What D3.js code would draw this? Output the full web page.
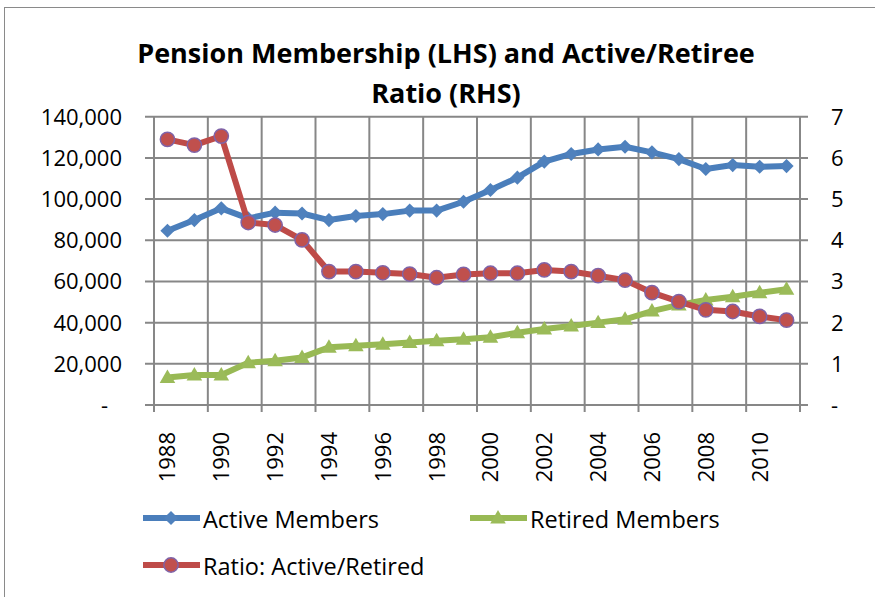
<!DOCTYPE html>
<html>
<head>
<meta charset="utf-8">
<script src="https://cdn.jsdelivr.net/npm/d3@7"></script>
<style>
  body { margin: 0; background: #fff; }
  text { font-family: "Open Sans", sans-serif; fill: #000; }
</style>
</head>
<body>
<div id="chart"></div>
<script>
// data
var years = ["1988","1989","1990","1991","1992","1993","1994","1995","1996","1997","1998","1999",
             "2000","2001","2002","2003","2004","2005","2006","2007","2008","2009","2010","2011"];
var active = [84600, 89800, 95500, 90600, 93400, 93000, 89800, 91800, 92700, 94400, 94400, 98700,
              104400, 110400, 118200, 121900, 124100, 125400, 122700, 119400, 114600, 116500, 115700, 116000];
var retired = [13400, 14600, 14600, 20500, 21500, 23100, 28000, 28800, 29500, 30300, 31200, 31900,
               32900, 35100, 36900, 38400, 40000, 41600, 45600, 48600, 51000, 52600, 54500, 56200];
var ratio = [6.45, 6.31, 6.53, 4.43, 4.37, 4.01, 3.24, 3.24, 3.21, 3.18, 3.09, 3.17,
             3.20, 3.20, 3.28, 3.24, 3.14, 3.03, 2.73, 2.51, 2.31, 2.27, 2.15, 2.06];
var leftTicks = [0, 20000, 40000, 60000, 80000, 100000, 120000, 140000];
var rightTicks = [0, 1, 2, 3, 4, 5, 6, 7];
var titleLines = ["Pension Membership (LHS) and Active/Retiree", "Ratio (RHS)"];

const width = 875, height = 597;
const plot = { left: 154, right: 800, top: 116.7, bottom: 405 };
const gridColor = "#878787";

var svg = d3.select("#chart").append("svg")
    .attr("width", width)
    .attr("height", height);

// chart border
svg.append("rect")
    .attr("x", 4.5).attr("y", 7.5)
    .attr("width", 1000).attr("height", 1000)
    .attr("fill", "none")
    .attr("stroke", "#8a8a8a")
    .attr("stroke-width", 1);

// title
svg.append("g").selectAll("text")
    .data(titleLines)
    .enter().append("text")
    .attr("x", 446)
    .attr("y", (d, i) => 63 + i * 40)
    .attr("text-anchor", "middle")
    .attr("font-size", 27)
    .attr("font-weight", "bold")
    .text(d => d);

var x = d3.scaleBand().domain(years).range([plot.left, plot.right]);
var yL = d3.scaleLinear().domain([0, 140000]).range([plot.bottom, plot.top]);
var yR = d3.scaleLinear().domain([0, 7]).range([plot.bottom, plot.top]);

var fmt = d3.format(",");

// horizontal gridlines (with crossing tick marks on both axes)
svg.append("g").selectAll("line")
    .data(leftTicks)
    .enter().append("line")
    .attr("x1", plot.left - 9)
    .attr("x2", plot.right + 8)
    .attr("y1", d => yL(d))
    .attr("y2", d => yL(d))
    .attr("stroke", gridColor)
    .attr("stroke-width", 2);

// vertical gridlines at every second category boundary
var bounds = years.filter((d, i) => i % 2 == 0).map(d => x(d)).concat([plot.right]);
svg.append("g").selectAll("line")
    .data(bounds)
    .enter().append("line")
    .attr("x1", d => d)
    .attr("x2", d => d)
    .attr("y1", plot.top)
    .attr("y2", plot.bottom + 7)
    .attr("stroke", gridColor)
    .attr("stroke-width", 2);

// left axis labels
svg.append("g").selectAll("text")
    .data(leftTicks)
    .enter().append("text")
    .attr("x", d => d == 0 ? 108 : 122)
    .attr("y", d => yL(d))
    .attr("dy", "0.36em")
    .attr("text-anchor", "end")
    .attr("font-size", 22)
    .text(d => d == 0 ? "-" : fmt(d));

// right axis labels
svg.append("g").selectAll("text")
    .data(rightTicks)
    .enter().append("text")
    .attr("x", 831)
    .attr("y", d => yR(d))
    .attr("dy", "0.36em")
    .attr("text-anchor", "start")
    .attr("font-size", 22)
    .text(d => d == 0 ? "-" : d);

// x labels, rotated
svg.append("g").selectAll("text")
    .data(years.filter((d, i) => i % 2 == 0))
    .enter().append("text")
    .attr("transform", d => "translate(" + (x(d) + x.bandwidth() / 2) + ",432) rotate(-90)")
    .attr("dy", "0.36em")
    .attr("text-anchor", "end")
    .attr("font-size", 22)
    .text(d => d);

// series
var series = [
    { name: "Active Members", values: active, y: yL, color: "#4A7EBB", fill: "#4F81BD", stroke: "none", symbol: "diamond" },
    { name: "Retired Members", values: retired, y: yL, color: "#98B954", fill: "#9BBB59", stroke: "none", symbol: "triangle" },
    { name: "Ratio: Active/Retired", values: ratio, y: yR, color: "#BE4B48", fill: "#C0504D", stroke: "#7F63A8", symbol: "circle" }
];

function markerPath(kind) {
    if (kind == "diamond") return d3.symbol().type(d3.symbolSquare).size(100)();
    if (kind == "triangle") return d3.symbol().type(d3.symbolTriangle).size(105)();
    return d3.symbol().type(d3.symbolCircle).size(160)();
}
function markerTransform(kind, px, py) {
    var t = "translate(" + px + "," + py + ")";
    if (kind == "diamond") t += " rotate(45)";
    if (kind == "triangle") t += " translate(0,1)";
    return t;
}

series.forEach(function(s) {
    var line = d3.line()
        .x((d, i) => x(years[i]) + x.bandwidth() / 2)
        .y(d => s.y(d));

    var g = svg.append("g");
    g.append("path")
        .attr("d", line(s.values))
        .attr("fill", "none")
        .attr("stroke", s.color)
        .attr("stroke-width", 6)
        .attr("stroke-linejoin", "round");

    g.selectAll("path.mk")
        .data(s.values)
        .enter().append("path")
        .attr("class", "mk")
        .attr("d", markerPath(s.symbol))
        .attr("transform", (d, i) => markerTransform(s.symbol, x(years[i]) + x.bandwidth() / 2, s.y(d)))
        .attr("fill", s.fill)
        .attr("stroke", s.stroke)
        .attr("stroke-width", 1.5);
});

// legend
var legendPos = [
    { x: 143, y: 518 },
    { x: 470, y: 518 },
    { x: 143, y: 565 }
];
series.forEach(function(s, i) {
    var p = legendPos[i];
    var g = svg.append("g");
    g.append("line")
        .attr("x1", p.x).attr("x2", p.x + 57)
        .attr("y1", p.y).attr("y2", p.y)
        .attr("stroke", s.color)
        .attr("stroke-width", 6);
    g.append("path")
        .attr("d", markerPath(s.symbol))
        .attr("transform", markerTransform(s.symbol, p.x + 28, p.y))
        .attr("fill", s.fill)
        .attr("stroke", s.stroke)
        .attr("stroke-width", 1.5);
    g.append("text")
        .attr("x", p.x + 60)
        .attr("y", p.y + 10)
        .attr("font-size", 23.5)
        .text(s.name);
});
</script>
</body>
</html>
